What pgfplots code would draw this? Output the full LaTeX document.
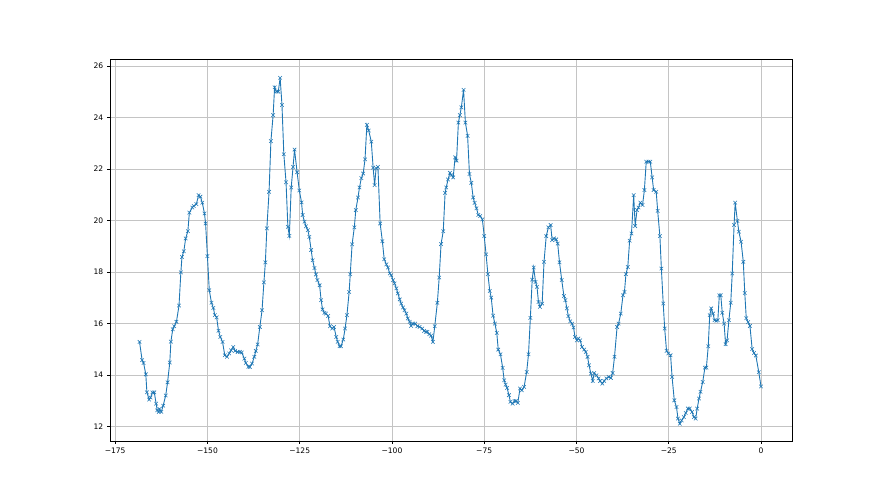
\documentclass[border=0pt]{standalone}
\usepackage{pgfplots}
\pgfplotsset{compat=1.18}
\usepackage{fontspec}
\setmainfont{DejaVu Sans}
\definecolor{mplblue}{HTML}{1F77B4}
\definecolor{mplgrid}{HTML}{C4C4C4}
\begin{document}
\begin{tikzpicture}[x=1bp,y=1bp]
\useasboundingbox (0,0) rectangle (880,495);
\begin{axis}[
  at={(110bp,54bp)}, anchor=south west,
  scale only axis, width=682bp, height=382bp,
  xmin=-176.4, xmax=8.4, ymin=11.43, ymax=26.27,
  xtick={-175,-150,-125,-100,-75,-50,-25,0},
  xticklabels={−175,−150,−125,−100,−75,−50,−25,0},
  ytick={12,14,16,18,20,22,24,26},
  yticklabels={12,14,16,18,20,22,24,26},
  tick label style={font=\fontsize{7.6}{9}\selectfont},
  tick align=outside, tick pos=left,
  major tick length=2.7bp,
  every tick/.style={black, line width=0.6bp},
  axis line style={black, line width=0.6bp},
  grid=major, major grid style={mplgrid, line width=0.6bp},
  xticklabel style={yshift=-0.5bp},
  yticklabel style={xshift=-0.5bp},
]
\addplot[mplblue, line width=0.9bp, mark=x, mark size=2.5bp, mark options={line width=0.55bp}] coordinates {
(-168.4,15.28) (-167.7,14.57) (-167.3,14.46) (-166.7,14.02) (-166.4,13.32) (-165.8,13.04) (-165.4,13.12) (-164.9,13.32)
(-164.4,13.32) (-163.9,12.88) (-163.6,12.62) (-163.2,12.56) (-163.0,12.67) (-162.5,12.56) (-162.0,12.80) (-161.3,13.20)
(-160.8,13.71) (-160.2,14.48) (-159.9,15.29) (-159.4,15.77) (-159.0,15.89) (-158.4,16.06) (-157.7,16.69) (-157.2,17.98)
(-156.9,18.58) (-156.4,18.80) (-155.9,19.30) (-155.3,19.58) (-154.9,20.30) (-154.1,20.50) (-153.7,20.56) (-153.0,20.63)
(-152.4,20.98) (-151.9,20.92) (-151.4,20.69) (-150.8,20.27) (-150.5,19.88) (-150.0,18.61) (-149.5,17.29) (-148.9,16.80)
(-148.4,16.60) (-148.0,16.32) (-147.5,16.23) (-147.0,15.71) (-146.5,15.47) (-145.9,15.28) (-145.3,14.76) (-144.7,14.70)
(-144.1,14.83) (-143.6,14.95) (-143.0,15.08) (-142.5,14.93) (-141.8,14.89) (-141.2,14.89) (-140.7,14.87) (-140.0,14.63)
(-139.6,14.46) (-138.9,14.31) (-138.5,14.31) (-137.9,14.44) (-137.3,14.70) (-136.9,14.93) (-136.4,15.18) (-135.8,15.86)
(-135.2,16.51) (-134.7,17.59) (-134.3,18.37) (-133.9,19.69) (-133.3,21.11) (-132.8,23.08) (-132.2,24.09) (-131.8,25.17)
(-131.3,25.00) (-130.8,25.00) (-130.3,25.54) (-129.8,24.48) (-129.3,22.57) (-128.7,21.48) (-128.2,19.75) (-127.8,19.40)
(-127.3,21.28) (-126.8,22.08) (-126.4,22.75) (-125.7,21.87) (-125.1,21.16) (-124.5,20.70) (-124.2,20.21) (-123.7,19.95)
(-123.3,19.77) (-122.8,19.62) (-122.4,19.36) (-121.9,18.85) (-121.5,18.45) (-121.0,18.15) (-120.6,17.90) (-120.2,17.68)
(-119.6,17.48) (-119.2,16.90) (-118.8,16.54) (-118.3,16.41) (-117.9,16.38) (-117.3,16.29) (-116.8,15.89) (-116.2,15.80)
(-115.7,15.86) (-115.1,15.47) (-114.7,15.28) (-114.2,15.11) (-113.8,15.11) (-113.2,15.37) (-112.7,15.80) (-112.2,16.32)
(-111.6,17.22) (-111.3,17.91) (-110.8,19.07) (-110.2,19.73) (-109.8,20.40) (-109.2,20.89) (-108.8,21.28) (-108.3,21.64)
(-107.8,21.82) (-107.3,22.37) (-106.8,23.71) (-106.3,23.49) (-105.6,23.06) (-105.1,22.05) (-104.7,21.37) (-104.3,22.02)
(-103.8,22.08) (-103.2,19.88) (-102.6,19.19) (-102.1,18.49) (-101.5,18.29) (-101.1,18.17) (-100.6,17.94) (-100.2,17.87)
(-99.7,17.68) (-99.3,17.55) (-98.8,17.36) (-98.4,17.16) (-97.9,16.93) (-97.5,16.77) (-97.0,16.62) (-96.6,16.51)
(-96.1,16.38) (-95.7,16.19) (-95.2,16.06) (-94.8,15.90) (-94.3,15.99) (-93.7,15.99) (-93.1,15.89) (-92.5,15.86)
(-91.8,15.80) (-91.3,15.71) (-90.8,15.67) (-90.4,15.67) (-89.9,15.58) (-89.4,15.52) (-88.9,15.28) (-88.4,15.89)
(-87.7,16.80) (-87.2,17.78) (-86.7,19.08) (-86.1,19.58) (-85.6,21.07) (-85.3,21.28) (-84.8,21.59) (-84.3,21.85)
(-83.9,21.76) (-83.4,21.67) (-82.9,22.45) (-82.5,22.32) (-82.0,23.80) (-81.6,24.09) (-81.2,24.39) (-80.6,25.07)
(-80.1,23.80) (-79.5,23.28) (-79.0,21.80) (-78.5,21.46) (-78.0,20.89) (-77.6,20.68) (-77.1,20.47) (-76.6,20.21)
(-76.1,20.17) (-75.5,20.04) (-75.0,19.39) (-74.5,18.68) (-74.0,17.91) (-73.5,17.26) (-73.1,17.00) (-72.6,16.30)
(-72.1,15.99) (-71.6,15.63) (-71.2,14.98) (-70.6,14.80) (-70.0,14.27) (-69.6,13.79) (-69.2,13.62) (-68.8,13.49)
(-68.3,13.21) (-67.9,12.95) (-67.3,12.88) (-66.8,12.98) (-66.4,12.98) (-65.9,12.91) (-65.3,13.47) (-64.8,13.40)
(-64.2,13.53) (-63.5,14.11) (-63.0,14.80) (-62.5,16.21) (-62.0,17.70) (-61.6,18.17) (-61.1,17.61) (-60.7,17.42)
(-60.3,16.83) (-59.9,16.64) (-59.3,16.77) (-58.8,18.39) (-58.2,19.39) (-57.6,19.73) (-57.0,19.82) (-56.6,19.23)
(-56.1,19.30) (-55.5,19.26) (-55.1,19.10) (-54.6,18.37) (-54.0,17.68) (-53.4,17.06) (-53.0,16.90) (-52.6,16.58)
(-52.2,16.28) (-51.7,16.08) (-51.2,15.99) (-50.8,15.84) (-50.4,15.47) (-49.9,15.34) (-49.5,15.41) (-49.0,15.34)
(-48.5,15.08) (-47.9,14.98) (-47.5,14.89) (-47.0,14.70) (-46.6,14.37) (-46.1,14.05) (-45.6,13.76) (-45.2,14.07)
(-44.6,13.98) (-44.0,13.86) (-43.6,13.76) (-43.0,13.66) (-42.5,13.76) (-41.9,13.86) (-41.3,13.92) (-40.7,13.88)
(-40.2,14.07) (-39.7,14.70) (-39.0,15.86) (-38.6,15.99) (-38.0,16.38) (-37.4,17.09) (-37.0,17.22) (-36.6,17.91)
(-36.1,18.19) (-35.6,19.21) (-35.1,19.49) (-34.5,20.98) (-34.1,19.78) (-33.6,20.40) (-33.2,20.50) (-32.7,20.69)
(-32.1,20.60) (-31.6,21.18) (-31.1,22.28) (-30.5,22.28) (-30.0,22.28) (-29.5,21.67) (-29.1,21.18) (-28.4,21.11)
(-28.0,20.37) (-27.4,19.39) (-27.0,18.13) (-26.5,16.77) (-26.1,15.80) (-25.6,14.93) (-25.1,14.83) (-24.5,14.76)
(-24.1,13.92) (-23.5,13.01) (-22.9,12.75) (-22.5,12.30) (-22.0,12.10) (-21.5,12.23) (-20.9,12.36) (-20.4,12.52)
(-19.8,12.69) (-19.3,12.69) (-18.7,12.56) (-18.2,12.36) (-17.7,12.30) (-17.3,12.69) (-16.8,13.08) (-16.4,13.34)
(-15.8,13.72) (-15.2,14.28) (-14.8,14.28) (-14.3,15.11) (-13.9,16.32) (-13.5,16.58) (-13.0,16.38) (-12.6,16.12)
(-12.1,16.10) (-11.7,16.12) (-11.3,17.09) (-10.9,17.09) (-10.5,16.41) (-10.0,15.99) (-9.6,15.19) (-9.2,15.34)
(-8.7,16.12) (-8.2,16.80) (-7.8,17.94) (-7.3,19.82) (-7.0,20.69) (-6.4,19.98) (-6.0,19.56) (-5.4,19.17)
(-4.8,18.39) (-4.4,17.18) (-4.0,16.20) (-3.5,16.05) (-3.0,15.90) (-2.4,15.00) (-1.9,14.85) (-1.4,14.75)
(-0.6,14.10) (0.0,13.55)
};
\end{axis}
\end{tikzpicture}
\end{document}
